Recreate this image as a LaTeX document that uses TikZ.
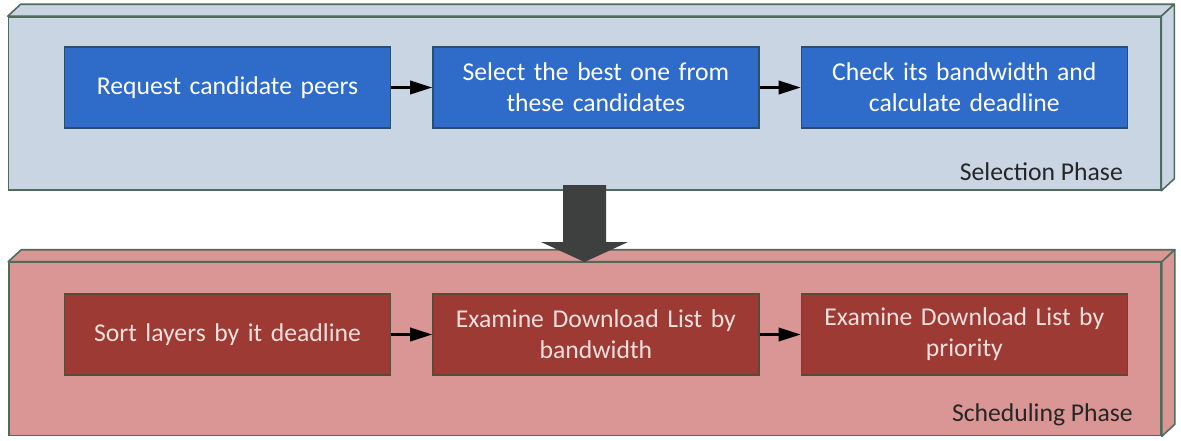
\documentclass[tikz,border=0pt]{standalone}
\usepackage{fontspec}
\setmainfont{Carlito}
\usetikzlibrary{arrows.meta,positioning,calc}
\definecolor{SelFill}{HTML}{C9D5E3}
\definecolor{SchedFill}{HTML}{D99694}
\definecolor{PanelEdge}{HTML}{4E6B5B}
\definecolor{StepBlue}{HTML}{2F6BC8}
\definecolor{StepBlueEdge}{HTML}{2A4F6E}
\definecolor{StepRed}{HTML}{9C3A33}
\definecolor{StepRedEdge}{HTML}{5A4A38}
\definecolor{StepRedText}{HTML}{F4E0DE}
\definecolor{BigArrow}{HTML}{3D403E}
\tikzset{
  panel/.style={rectangle, draw=PanelEdge, line width=0.9pt, minimum width=23.04cm, minimum height=3.46cm, inner sep=0pt},
  paneldepth/.style={draw=PanelEdge, line width=0.9pt, line join=round},
  stepbox/.style={
    rectangle, draw, line width=0.8pt, text width=6.3cm, align=center,
    minimum width=6.52cm, minimum height=1.62cm, inner sep=0pt,
    font=\fontsize{14.6}{17.6}\selectfont
  },
  bluestep/.style={stepbox, fill=StepBlue, draw=StepBlueEdge, text=white},
  redstep/.style={stepbox, fill=StepRed, draw=StepRedEdge, text=StepRedText},
  steparrow/.style={-{Triangle[length=0.44cm, width=0.27cm]}, line width=1.2pt, black},
  phaselabel/.style={font=\fontsize{14.6}{17}\selectfont, anchor=east, text=black!85},
}
\begin{document}
\begin{tikzpicture}
  \useasboundingbox (0,0) rectangle (23.62,-8.8);
  % selection phase panel
  \node[panel, fill=SelFill] (sel) at (11.69,-2.07) {};
  \draw[paneldepth, fill=SelFill] (sel.north west) -- ++(0.26,0.24) -- ($(sel.north east)+(0.26,0.24)$) -- (sel.north east) -- cycle;
  \draw[paneldepth, fill=SelFill] (sel.north east) -- ++(0.26,0.24) -- ($(sel.south east)+(0.26,0.24)$) -- (sel.south east) -- cycle;
  \node[phaselabel] (sellabel) at (22.58,-3.44) {Selection Phase};
  % scheduling phase panel
  \node[panel, fill=SchedFill] (sched) at (11.70,-6.98) {};
  \draw[paneldepth, fill=SchedFill] (sched.north west) -- ++(0.26,0.24) -- ($(sched.north east)+(0.26,0.24)$) -- (sched.north east) -- cycle;
  \draw[paneldepth, fill=SchedFill] (sched.north east) -- ++(0.26,0.24) -- ($(sched.south east)+(0.26,0.24)$) -- (sched.south east) -- cycle;
  \node[phaselabel] (schedlabel) at (22.78,-8.3) {Scheduling Phase};
  % steps
  \node[bluestep] (request) at (4.55,-1.75) {Request candidate peers};
  \node[bluestep, right=0.82cm of request] (select) {Select the best one from\\these candidates};
  \node[bluestep, right=0.82cm of select] (check) {Check its bandwidth and\\calculate deadline};
  \node[redstep] (sort) at (4.55,-6.69) {Sort layers by it deadline};
  \node[redstep, right=0.82cm of sort] (bybw) {Examine Download List by\\bandwidth};
  \node[redstep, right=0.82cm of bybw] (byprio) {Examine Download List by\\priority};
  \draw[steparrow] (request) -- (select);
  \draw[steparrow] (select) -- (check);
  \draw[steparrow] (sort) -- (bybw);
  \draw[steparrow] (bybw) -- (byprio);
  % big arrow between the phases
  \fill[BigArrow] (11.26,-3.70) -- (12.12,-3.70) -- (12.12,-4.84) -- (12.56,-4.84)
    -- (11.69,-5.24) -- (10.82,-4.84) -- (11.26,-4.84) -- cycle;
\end{tikzpicture}
\end{document}
